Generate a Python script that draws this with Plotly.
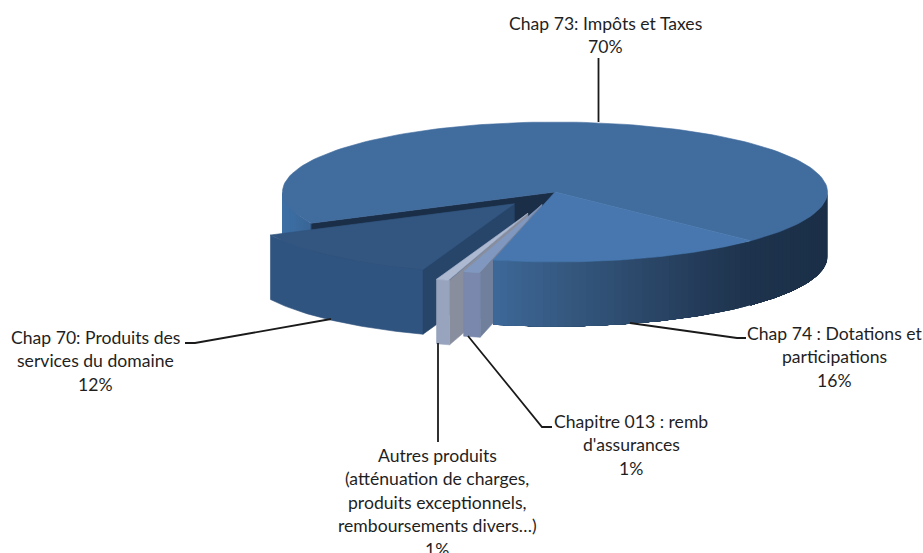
import numpy as np
import plotly.graph_objects as go

# ---- data -----------------------------------------------------------
CATEGORIES = ["Chap 73: Impôts et Taxes", "Chap 74 : Dotations et participations",
              "Chapitre 013 : remb d'assurances", "Autres produits", "Chap 70: Produits des services du domaine"]
VALUES = [69.6, 16.4, 1.0, 0.8, 12.2]
EXPLODE = [0.0, 0.0, 0.186, 0.32, 0.225]
LABEL_LINES = [
    ["Chap 73: Impôts et Taxes"],
    ["Chap 74 : Dotations et", "participations"],
    ["Chapitre 013 : remb", "d'assurances"],
    ["Autres produits", "(atténuation de charges,", "produits exceptionnels,", "remboursements divers…)"],
    ["Chap 70: Produits des", "services du domaine"],
]

# ---- geometry / style -----------------------------------------------
W, H = 923, 553
CX, CY, A, B, DEPTH = 555, 192, 272.5, 70, 64.5
START_DEG = 243.5
LABEL_POS = [(605, 23), (834, 333), (631, 421), (437, 455), (95, 337)]
LINE_GAP = 23.6
LEADERS = [
    [(598.5, 122), (598.5, 58)],
    [(630, 323), (737, 338), (746, 338)],
    [(468, 336), (542, 427), (552, 427)],
    [(438, 343), (438, 442)],
    [(331, 319), (195, 343), (185, 343)],
]
TOP = ["#416c9e", "#4777ae", "#8098c0", "#adb9d1", "#335680"]
CUT = ["#1a2e47", "#1a2e47", "#6f7f9c", "#888e9e", "#274469"]
FRONT = {2: "#7988ac", 3: "#98a4be", 4: "#305480"}
WALL_X = [282, 310, 490, 570, 680, 750, 827]
WALL_RGB = [(62, 113, 167), (58, 102, 152), (62, 105, 154), (53, 88, 127), (39, 64, 95), (30, 51, 77), (27, 47, 72)]

fracs = np.array(VALUES) / sum(VALUES)
ends = START_DEG + np.cumsum(fracs) * 360
starts = np.concatenate([[START_DEG], ends[:-1]])
mids = (starts + ends) / 2


def origin(i):
    m = np.radians(mids[i])
    return CX + EXPLODE[i] * A * np.sin(m), CY - EXPLODE[i] * B * np.cos(m)


def rim(i, t):
    ox, oy = origin(i)
    r = np.radians(t)
    return ox + A * np.sin(r), oy - B * np.cos(r)


fig = go.Figure()


def poly(xs, ys, color, lw=0.6):
    fig.add_trace(go.Scatter(x=list(xs), y=list(ys), mode="lines", fill="toself", fillcolor=color,
                             line=dict(color=color, width=lw), hoverinfo="skip", showlegend=False))


def top(i):
    ts = np.linspace(starts[i], ends[i], 140)
    ox, oy = origin(i)
    pts = [rim(i, t) for t in ts]
    poly([ox] + [p[0] for p in pts] + [ox], [oy] + [p[1] for p in pts] + [oy], TOP[i])


def cut(i, t):
    ox, oy = origin(i)
    x, y = rim(i, t)
    poly([ox, x, x, ox, ox], [oy, y, y + DEPTH, oy + DEPTH, oy], CUT[i])


def wall_color(x):
    c = [np.interp(x, WALL_X, [rgb[k] for rgb in WALL_RGB]) for k in range(3)]
    return "rgb(%d,%d,%d)" % tuple(c)


def band(pts, color, lw=0.0):
    poly([p[0] for p in pts] + [p[0] for p in pts[::-1]] + [pts[0][0]],
         [p[1] for p in pts] + [p[1] + DEPTH for p in pts[::-1]] + [pts[0][1]], color, lw)


def wall(i, t0, t1, color=None):
    if color:
        band([rim(i, t) for t in np.linspace(t0, t1, 60)], color, 0.6)
        return
    n = max(1, int(abs(t1 - t0) / 1.5))
    ts = np.linspace(t0, t1, n + 1)
    # every band runs on to the far end of the wall, later bands paint over it, so no seams show
    for k in range(n):
        pts = [rim(i, t) for t in np.linspace(ts[k], t1, max(2, (n - k) * 2))]
        mid = rim(i, (ts[k] + ts[k + 1]) / 2)[0]
        band(pts, wall_color(mid), 0.0)


# back slice: outer walls, rear cut face and top
wall(0, 90, ends[0] - 360)
wall(0, starts[0], 270)
cut(0, starts[0])
top(0)
# Chap 70
wall(4, starts[4], ends[4], FRONT[4])
cut(4, starts[4])
top(4)
# cut faces of the thin slices sit behind the neighbouring tops
cut(3, starts[3])
cut(2, starts[2])
# Chap 74
wall(1, starts[1], ends[1])
top(1)
# thin slices
wall(2, starts[2], ends[2], FRONT[2])
top(2)
wall(3, starts[3], ends[3], FRONT[3])
top(3)

for seg in LEADERS:
    fig.add_trace(go.Scatter(x=[p[0] for p in seg], y=[p[1] for p in seg], mode="lines",
                             line=dict(color="#1a1a1a", width=1.8), hoverinfo="skip", showlegend=False))

annotations = []
for lines, v, (lx, ly) in zip(LABEL_LINES, VALUES, LABEL_POS):
    for k, txt in enumerate(lines + ["%d%%" % round(v)]):
        annotations.append(dict(x=lx, y=ly + k * LINE_GAP, xref="x", yref="y", text=txt, showarrow=False,
                                xanchor="center", yanchor="middle",
                                font=dict(family="Lato, Carlito, sans-serif", size=17.6, color="#1f1f1f")))

fig.update_layout(width=W, height=H, margin=dict(l=0, r=0, t=0, b=0), paper_bgcolor="white", plot_bgcolor="white",
                  showlegend=False, annotations=annotations,
                  xaxis=dict(range=[0, W], visible=False, fixedrange=True),
                  yaxis=dict(range=[H, 0], visible=False, fixedrange=True))
fig.write_html("out.html", config={"displayModeBar": False}, post_script="document.body.style.margin='0';")
